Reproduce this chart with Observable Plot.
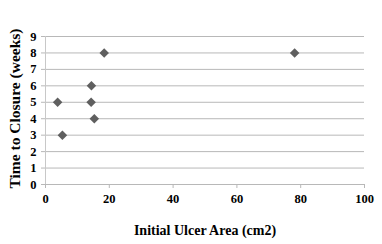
<!DOCTYPE html>
<html><head><meta charset="utf-8">
<script src="https://cdn.jsdelivr.net/npm/d3@7"></script>
<script src="https://cdn.jsdelivr.net/npm/@observablehq/plot@0.6"></script>
<style>body{margin:0;background:#fff;} svg{font-family:"Liberation Serif",serif;font-weight:bold;}</style>
</head><body><div id="c"></div>
<script>
const ulcerArea = [18.4, 78.1, 14.4, 3.8, 14.3, 15.3, 5.3];
const closureWeeks = [8, 8, 6, 5, 5, 4, 3];
const xTicks = [0, 20, 40, 60, 80, 100];
const yTicks = [0, 1, 2, 3, 4, 5, 6, 7, 8, 9];
const data = ulcerArea.map((a, i) => ({area: a, weeks: closureWeeks[i]}));

const plot = Plot.plot({
  width: 382, height: 244,
  marginLeft: 45, marginRight: 18, marginTop: 36, marginBottom: 60,
  style: {fontFamily: '"Liberation Serif", serif', fontWeight: "bold", fontSize: "12.5px", color: "#000", background: "#fff"},
  x: {domain: [0, 100], ticks: xTicks, label: null},
  y: {domain: [0, 9], ticks: yTicks, label: null},
  marks: [
    Plot.gridY(yTicks, {stroke: "#b8b8b8", strokeOpacity: 1, strokeWidth: 1}),
    Plot.ruleX([0], {stroke: "#c8c8c8", strokeWidth: 1}),
    Plot.axisY({ticks: yTicks, tickSize: 4, tickPadding: 5, stroke: "#b8b8b8", fontSize: 12.5, fontWeight: "bold", fill: "#000"}),
    Plot.axisX({ticks: xTicks, tickSize: 4, tickPadding: 6, stroke: "#b8b8b8", fontSize: 12.5, fontWeight: "bold", fill: "#000"}),
    Plot.dot(data, {x: "area", y: "weeks", symbol: "diamond2", r: 4.3, fill: "#5f5f5f", stroke: "none"}),
    Plot.text(["Initial Ulcer Area (cm2)"], {frameAnchor: "bottom", dy: 50, fontSize: 14, fontWeight: "bold", fill: "#000"}),
    Plot.text(["Time to Closure (weeks)"], {frameAnchor: "left", textAnchor: "middle", dx: -30, dy: -2, rotate: -90, fontSize: 15.5, fontWeight: "bold", fill: "#000"})
  ]
});
document.getElementById("c").appendChild(plot);
</script></body></html>
